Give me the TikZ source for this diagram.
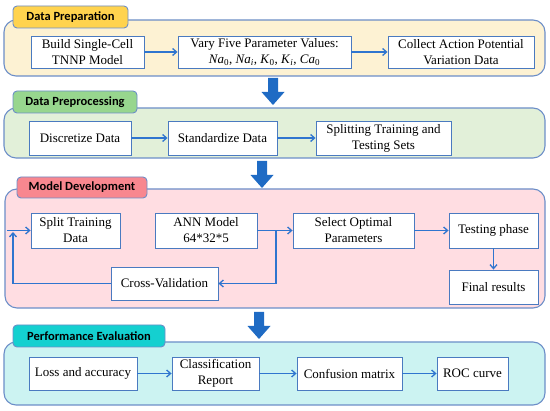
\documentclass[tikz,border=0pt]{standalone}
\usepackage{fontspec}
\setmainfont{Liberation Serif}
\newfontfamily\tabfont{Carlito}
\usetikzlibrary{arrows.meta}

\definecolor{edgeblue}{HTML}{6C8EC8}
\definecolor{boxblue}{HTML}{4A7AC0}
\definecolor{flowblue}{HTML}{2F75CF}
\definecolor{bigblue}{HTML}{1F6BC4}
\definecolor{prepfill}{HTML}{FDF2D3}
\definecolor{preptab}{HTML}{FFD34E}
\definecolor{procfill}{HTML}{E2F0D9}
\definecolor{proctab}{HTML}{97D68E}
\definecolor{modelfill}{HTML}{FFDDE2}
\definecolor{modeltab}{HTML}{F8878F}
\definecolor{evalfill}{HTML}{CCF3F2}
\definecolor{evaltab}{HTML}{14D0D0}

\newcommand{\ion}[2]{\textit{#1}\textsubscript{#2}}

\tikzset{
  panel/.style={draw=edgeblue,line width=1.1pt,rounded corners=12pt},
  tab/.style={draw=edgeblue,line width=0.9pt,rounded corners=4pt,inner sep=0pt,
    font=\tabfont\bfseries\fontsize{12.5}{14}\selectfont},
  box/.style={draw=boxblue,line width=0.9pt,fill=white,inner sep=0pt,align=center,
    font=\fontsize{13}{16}\selectfont},
  flow/.style={-{Straight Barb[length=4pt,width=7pt]},draw=flowblue,line width=1.3pt}
}

\begin{document}
\begin{tikzpicture}[x=1pt,y=-1pt]
    \useasboundingbox (0,0) rectangle (550,411);

    % panels
    \draw[panel,fill=prepfill] (4,20) rectangle (545,76);
    \draw[panel,fill=procfill] (4,108) rectangle (545,158);
    \draw[panel,fill=modelfill] (5,189) rectangle (545,308);
    \draw[panel,fill=evalfill] (4,342) rectangle (545,405);

    % tabs
    \node[tab,fill=preptab,minimum width=115pt,minimum height=22pt] (tprep) at (70.5,17) {Data Preparation};
    \node[tab,fill=proctab,minimum width=124pt,minimum height=22pt] (tproc) at (75,102) {Data Preprocessing};
    \node[tab,fill=modeltab,minimum width=130pt,minimum height=21pt] (tmodel) at (82,187.5) {Model Development};
    \node[tab,fill=evaltab,minimum width=152pt,minimum height=22pt] (teval) at (89,336) {Performance Evaluation};

    % big arrows between stages
    \foreach \cx/\ty in {273/78,262/161,259/312}
        \fill[bigblue] (\cx-5,\ty) -- (\cx+5,\ty) -- (\cx+5,\ty+14) -- (\cx+11.5,\ty+14)
            -- (\cx,\ty+27) -- (\cx-11.5,\ty+14) -- (\cx-5,\ty+14) -- cycle;

    % data preparation
    \node[box,minimum width=113pt,minimum height=32pt] (build) at (87.5,52) {Build Single-Cell\\TNNP Model};
    \node[box,minimum width=173pt,minimum height=32pt] (vary) at (264.5,52)
        {Vary Five Parameter Values:\\\ion{Na}{0}, \ion{Na}{\textit{i}}, \ion{K}{0}, \ion{K}{\textit{i}}, \ion{Ca}{0}};
    \node[box,minimum width=146pt,minimum height=32pt] (collect) at (461,52) {Collect Action Potential\\Variation Data};
    \draw[flow] (build) -- (vary);
    \draw[flow] (vary) -- (collect);

    % data preprocessing
    \node[box,minimum width=102pt,minimum height=34pt] (disc) at (80,138) {Discretize Data};
    \node[box,minimum width=109pt,minimum height=34pt] (stand) at (222.5,138) {Standardize Data};
    \node[box,minimum width=135pt,minimum height=34pt] (sets) at (383.5,138) {Splitting Training and\\Testing Sets};
    \draw[flow] (disc) -- (stand);
    \draw[flow] (stand) -- (sets);

    % model development
    \node[box,minimum width=89pt,minimum height=35pt] (split) at (75.5,230.5) {Split Training\\Data};
    \node[box,minimum width=102pt,minimum height=35pt] (ann) at (206,230.5) {ANN Model\\64*32*5};
    \node[box,minimum width=121pt,minimum height=35pt] (select) at (353.5,230.5) {Select Optimal\\Parameters};
    \node[box,minimum width=89pt,minimum height=35pt] (test) at (493.5,230.5) {Testing phase};
    \node[box,minimum width=89pt,minimum height=34pt] (final) at (493.5,287) {Final results};
    \node[box,minimum width=107pt,minimum height=33pt] (cv) at (164.5,283.5) {Cross-Validation};
    \coordinate (jn) at (276,230.5);
    \coordinate (entry) at (7,230.5);
    \coordinate (loop) at (13,232);
    \draw[flow,-] (ann) -- (jn);
    \draw[flow] (jn) -- (select);
    \draw[flow] (jn) |- (cv);
    \draw[flow] (cv) -| (loop);
    \draw[flow] (entry) -- (split);
    \draw[flow] (select) -- (test);
    \draw[flow] (test) -- (final);

    % performance evaluation
    \node[box,minimum width=108pt,minimum height=33pt] (loss) at (83,373.5) {Loss and accuracy};
    \node[box,minimum width=87pt,minimum height=33pt] (report) at (215.5,373.5) {Classification\\Report};
    \node[box,minimum width=105pt,minimum height=33pt] (conf) at (349.5,373.5) {Confusion matrix};
    \node[box,minimum width=71pt,minimum height=33pt] (roc) at (472.5,373.5) {ROC curve};
    \draw[flow] (loss) -- (report);
    \draw[flow] (report) -- (conf);
    \draw[flow] (conf) -- (roc);
\end{tikzpicture}
\end{document}
